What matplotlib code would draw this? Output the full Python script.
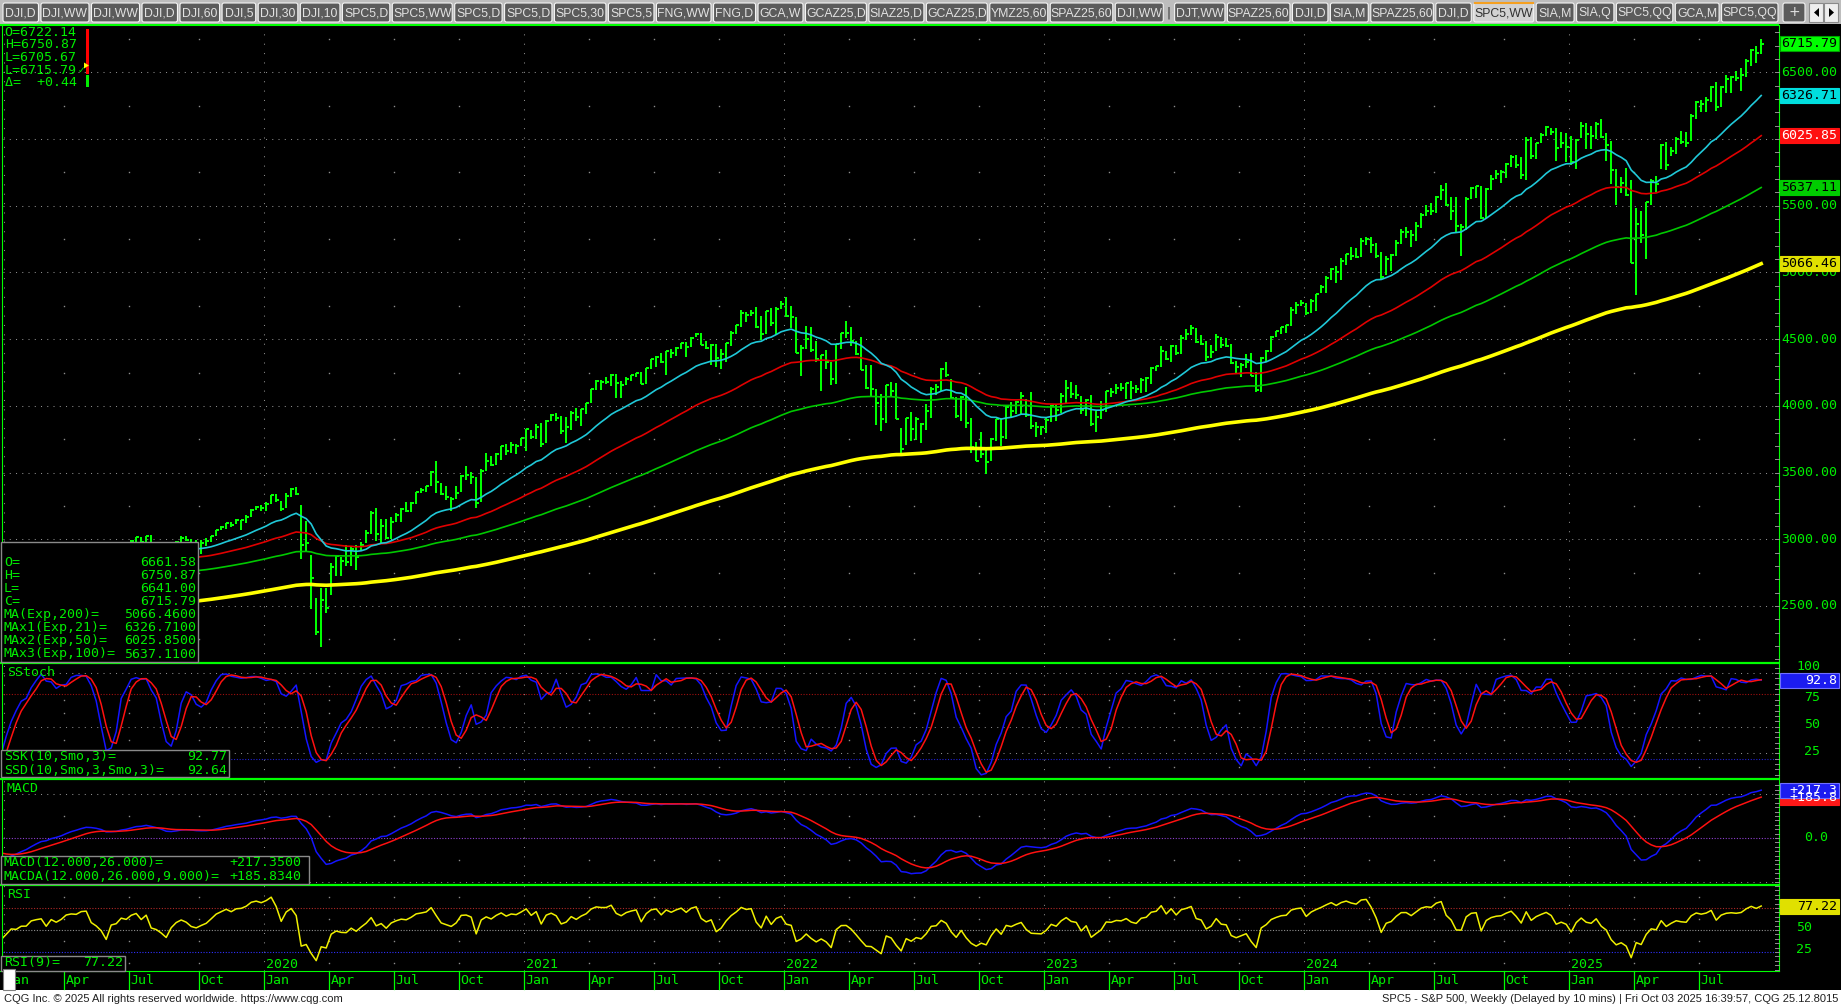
import numpy as np
import pandas as pd
import matplotlib
matplotlib.use("Agg")
import matplotlib.pyplot as plt
from matplotlib.patches import Rectangle, FancyBboxPatch, Polygon

# ---------------------------------------------------------------------------
# weekly S&P 500 bars, dated by the Friday of each week.  The first 13 bars
# (Q4 2018) sit left of the visible window and only warm up the studies.
first_friday = "2018-10-05"
n_hidden = 13

close = [
    2885.57, 2767.13, 2767.78, 2658.69, 2723.06, 2781.01, 2736.27, 2632.56, 2760.17, 2633.08, 2599.95, 2416.62, 2485.74,
    # 2019
    2531.94, 2596.26, 2670.71, 2664.76, 2706.53, 2707.88, 2775.60, 2792.67, 2803.69, 2743.07, 2822.48, 2800.71, 2834.40,
    2892.74, 2907.41, 2905.03, 2939.88, 2945.64, 2881.40, 2859.53, 2826.06, 2752.06, 2873.34, 2886.98, 2950.46, 2941.76,
    2990.41, 3013.77, 2976.61, 3025.86, 2932.05, 2918.65, 2888.68, 2847.11, 2926.46, 2978.71, 3007.39, 2992.07, 2961.79,
    2952.01, 2970.27, 2986.20, 3022.55, 3066.91, 3093.08, 3120.46, 3110.29, 3140.98, 3145.91, 3168.80, 3221.22, 3240.02,
    # 2020
    3234.85, 3265.35, 3329.62, 3295.47, 3225.52, 3327.71, 3380.16, 3337.75, 2954.22, 2972.37, 2711.02, 2304.92, 2541.47,
    2488.65, 2789.82, 2874.56, 2836.74, 2830.71, 2929.80, 2863.70, 2955.45, 3044.31, 3193.93, 3041.31, 3097.74, 3009.05,
    3130.01, 3185.04, 3224.73, 3215.63, 3271.12, 3351.28, 3372.85, 3397.16, 3508.01, 3426.96, 3340.97, 3319.47, 3298.46,
    3348.44, 3477.13, 3483.81, 3465.39, 3269.96, 3509.44, 3585.15, 3557.54, 3638.35, 3699.12, 3663.46, 3709.41, 3703.06,
    3756.07,
    # 2021
    3824.68, 3768.25, 3841.47, 3714.24, 3886.83, 3934.83, 3906.71, 3811.15, 3841.94, 3943.34, 3913.10, 3974.54, 4019.87,
    4128.80, 4185.47, 4180.17, 4181.17, 4232.60, 4173.85, 4155.86, 4204.11, 4229.89, 4247.44, 4166.45, 4280.70, 4352.34,
    4369.55, 4327.16, 4411.79, 4395.26, 4436.52, 4468.00, 4441.67, 4509.37, 4535.43, 4458.58, 4432.99, 4455.48, 4357.04,
    4391.34, 4471.37, 4544.90, 4605.38, 4697.53, 4682.85, 4697.96, 4594.62, 4538.43, 4712.02, 4620.64, 4725.79, 4766.18,
    # 2022
    4677.03, 4662.85, 4397.94, 4431.85, 4500.53, 4418.64, 4348.87, 4384.65, 4328.87, 4204.31, 4463.12, 4543.06, 4545.86,
    4488.28, 4392.59, 4271.78, 4131.93, 4123.34, 4023.89, 3901.36, 4158.24, 4108.54, 3900.86, 3674.84, 3911.74, 3825.33,
    3899.38, 3863.16, 3961.63, 4130.29, 4145.19, 4280.15, 4228.48, 4057.66, 3924.26, 4067.36, 3873.33, 3693.23, 3585.62,
    3639.66, 3583.07, 3752.75, 3901.06, 3770.55, 3992.93, 3965.34, 4026.12, 4071.70, 3934.38, 3852.36, 3844.82, 3839.50,
    # 2023
    3895.08, 3999.09, 3972.61, 4070.56, 4136.48, 4090.46, 4079.09, 3970.04, 4045.64, 3861.59, 3916.64, 3970.99, 4109.31,
    4105.02, 4137.64, 4133.52, 4169.48, 4136.25, 4124.08, 4191.98, 4205.45, 4282.37, 4298.86, 4409.59, 4348.33, 4450.38,
    4398.95, 4505.42, 4536.34, 4582.23, 4478.03, 4464.05, 4369.71, 4405.71, 4515.77, 4457.49, 4450.32, 4320.06, 4288.05,
    4308.50, 4327.78, 4224.16, 4117.37, 4358.34, 4415.24, 4514.02, 4559.34, 4594.63, 4604.37, 4719.19, 4754.63, 4769.83,
    # 2024
    4697.24, 4783.83, 4839.81, 4890.97, 4958.61, 5026.61, 5005.57, 5088.80, 5137.08, 5123.69, 5117.09, 5234.18, 5254.35,
    5204.34, 5123.41, 4967.23, 5099.96, 5127.79, 5222.68, 5303.27, 5304.72, 5277.51, 5346.99, 5431.60, 5464.62, 5460.48,
    5567.19, 5615.35, 5505.00, 5459.10, 5346.56, 5344.16, 5554.25, 5634.61, 5648.40, 5408.42, 5626.02, 5702.55, 5738.17,
    5751.07, 5815.03, 5864.67, 5808.12, 5728.80, 5995.54, 5870.62, 5969.34, 6032.38, 6090.27, 6051.09, 5930.85, 5970.84,
    # 2025
    5942.47, 5827.04, 5996.66, 6101.24, 6040.53, 6025.99, 6114.63, 6013.13, 5954.50, 5770.20, 5638.94, 5667.56, 5580.94,
    5074.08, 5363.36, 5282.70, 5525.21, 5686.67, 5659.91, 5958.38, 5802.82, 5911.69, 6000.36, 5976.97, 5967.84, 6173.07,
    6279.35, 6259.75, 6296.79, 6388.64, 6238.01, 6389.45, 6449.80, 6466.91, 6460.26, 6481.50, 6584.29, 6664.36, 6643.70,
    6715.79,
]

high = [
    2940, 2890, 2816, 2780, 2767, 2815, 2795, 2735, 2760, 2800, 2685, 2601, 2520,
    # 2019
    2538, 2597, 2675, 2681, 2708, 2738, 2776, 2793, 2816, 2803, 2830, 2861, 2838, 2893, 2910, 2916, 2940, 2954, 2932, 2892,
    2876, 2840, 2876, 2911, 2964, 2958, 2996, 3017, 3018, 3028, 3029, 2944, 2943, 2939, 2941, 2986, 3021, 3022, 3002, 2993,
    2993, 3008, 3027, 3067, 3098, 3121, 3128, 3155, 3146, 3183, 3226, 3248,
    # 2020
    3258, 3282, 3330, 3338, 3290, 3347, 3385, 3394, 3259, 3137, 2883, 2563, 2637, 2632, 2819, 2880, 2868, 2955, 2939, 2954,
    2981, 3068, 3211, 3233, 3155, 3155, 3165, 3198, 3238, 3280, 3279, 3352, 3387, 3399, 3509, 3588, 3425, 3402, 3320, 3398,
    3482, 3550, 3502, 3466, 3529, 3646, 3628, 3645, 3699, 3712, 3726, 3712, 3760,
    # 2021
    3827, 3823, 3861, 3870, 3895, 3937, 3950, 3928, 3915, 3960, 3983, 3979, 4021, 4130, 4192, 4194, 4218, 4238, 4236, 4188,
    4213, 4234, 4249, 4257, 4287, 4355, 4372, 4394, 4415, 4430, 4441, 4468, 4480, 4513, 4546, 4549, 4486, 4466, 4466, 4429,
    4475, 4560, 4608, 4718, 4707, 4717, 4744, 4672, 4713, 4732, 4740, 4787,
    # 2022
    4819, 4749, 4665, 4453, 4596, 4590, 4490, 4385, 4416, 4327, 4465, 4546, 4637, 4593, 4487, 4513, 4308, 4307, 4124, 4091,
    4159, 4177, 4169, 3838, 3913, 3951, 3919, 3875, 4013, 4141, 4167, 4281, 4326, 4204, 4063, 4077, 4140, 3907, 3733, 3806,
    3685, 3762, 3905, 3911, 4001, 4029, 4034, 4101, 4052, 4101, 3877, 3846,
    # 2023
    3906, 4004, 4016, 4095, 4195, 4176, 4157, 4073, 4049, 4079, 3964, 4039, 4110, 4133, 4164, 4170, 4170, 4186, 4154, 4212,
    4213, 4290, 4299, 4449, 4408, 4458, 4456, 4528, 4578, 4607, 4584, 4528, 4490, 4458, 4541, 4519, 4511, 4466, 4338, 4319,
    4386, 4394, 4256, 4367, 4418, 4521, 4560, 4595, 4610, 4738, 4779, 4793,
    # 2024
    4773, 4799, 4842, 4907, 4975, 5030, 5048, 5111, 5141, 5190, 5180, 5262, 5265, 5264, 5220, 5150, 5123, 5139, 5240, 5325,
    5342, 5315, 5376, 5448, 5506, 5524, 5570, 5655, 5670, 5566, 5566, 5360, 5563, 5644, 5652, 5651, 5636, 5734, 5767, 5765,
    5822, 5878, 5878, 5863, 6013, 6018, 5972, 6044, 6099, 6085, 6085, 6050,
    # 2025
    6049, 6022, 6004, 6128, 6120, 6101, 6128, 6147, 6044, 5987, 5775, 5715, 5787, 5695, 5481, 5460, 5528, 5700, 5720, 5964,
    5976, 5944, 6016, 6059, 6051, 6188, 6285, 6290, 6315, 6395, 6427, 6395, 6481, 6475, 6509, 6533, 6600, 6672, 6699, 6751,
]

low = [
    2874, 2710, 2724, 2628, 2603, 2701, 2671, 2631, 2649, 2621, 2584, 2409, 2347,
    # 2019
    2444, 2524, 2571, 2612, 2631, 2682, 2703, 2764, 2775, 2722, 2735, 2800, 2785, 2849, 2873, 2898, 2896, 2901, 2825, 2801,
    2805, 2750, 2728, 2873, 2884, 2914, 2952, 2966, 2971, 2975, 2914, 2822, 2834, 2835, 2853, 2891, 2979, 2990, 2946, 2856,
    2892, 2952, 2976, 3023, 3066, 3078, 3091, 3113, 3070, 3124, 3166, 3223,
    # 2020
    3215, 3214, 3262, 3281, 3214, 3234, 3316, 3329, 2855, 2902, 2478, 2281, 2192, 2447, 2579, 2727, 2727, 2798, 2798, 2767,
    2921, 2970, 3039, 2985, 2965, 3004, 2999, 3128, 3128, 3201, 3204, 3264, 3344, 3355, 3396, 3349, 3330, 3292, 3209, 3299,
    3354, 3441, 3415, 3233, 3280, 3511, 3546, 3554, 3594, 3633, 3648, 3636, 3700,
    # 2021
    3663, 3750, 3749, 3694, 3725, 3884, 3885, 3789, 3723, 3817, 3886, 3853, 3943, 4020, 4118, 4118, 4164, 4148, 4057, 4062,
    4154, 4188, 4218, 4165, 4165, 4276, 4294, 4323, 4233, 4360, 4373, 4426, 4368, 4442, 4514, 4457, 4429, 4306, 4288, 4278,
    4330, 4447, 4537, 4595, 4630, 4672, 4585, 4495, 4540, 4600, 4531, 4730,
    # 2022
    4663, 4582, 4395, 4223, 4429, 4401, 4328, 4115, 4279, 4157, 4162, 4424, 4507, 4450, 4381, 4267, 4124, 4063, 3859, 3811,
    3875, 4074, 3900, 3637, 3705, 3738, 3743, 3722, 3819, 3911, 4080, 4115, 4218, 4057, 3907, 3886, 3837, 3647, 3585, 3611,
    3492, 3590, 3736, 3699, 3750, 3906, 3938, 3939, 3918, 3828, 3765, 3783,
    # 2023
    3795, 3876, 3886, 3949, 4015, 4061, 4048, 3943, 3928, 3847, 3808, 3902, 3956, 4069, 4087, 4114, 4049, 4048, 4099, 4098,
    4104, 4166, 4260, 4293, 4341, 4328, 4385, 4389, 4494, 4528, 4474, 4457, 4335, 4357, 4414, 4431, 4443, 4317, 4238, 4216,
    4283, 4223, 4104, 4103, 4329, 4406, 4515, 4537, 4547, 4597, 4688, 4752,
    # 2024
    4682, 4700, 4714, 4845, 4846, 4943, 4920, 4946, 5056, 5091, 5105, 5118, 5204, 5146, 5108, 4954, 4980, 5011, 5123, 5211,
    5257, 5191, 5234, 5331, 5420, 5433, 5445, 5547, 5497, 5390, 5303, 5120, 5317, 5548, 5561, 5403, 5406, 5615, 5703, 5674,
    5707, 5789, 5782, 5703, 5696, 5853, 5853, 5973, 6024, 6030, 5833, 5932,
    # 2025
    5830, 5809, 5774, 6006, 5923, 5923, 6003, 6009, 5837, 5667, 5505, 5597, 5572, 5069, 4835, 5221, 5101, 5508, 5606, 5776,
    5768, 5874, 5891, 5964, 5943, 5984, 6150, 6201, 6201, 6281, 6212, 6241, 6346, 6343, 6434, 6360, 6467, 6551, 6569, 6641,
]

# moving-average lengths and the levels they carried into Oct 2018
ema_len = {"ema21": 21, "ema50": 50, "ema100": 100, "ema200": 200}
ema_start = {"ema21": 2860.0, "ema50": 2770.0, "ema100": 2605.0, "ema200": 2330.0}
macd_start = (2890.0, 2900.0, 40.0)  # EMA12, EMA26, signal
rsi_start = (24.0, 18.0)             # Wilder average gain / loss

# legend texts as printed by CQG
info_rows = ["O=6722.14", "H=6750.87", "L=6705.67", "L=6715.79", "\u0394=  +0.44"]
legend_rows = [("O=", "6661.58"), ("H=", "6750.87"), ("L=", "6641.00"), ("C=", "6715.79"),
               ("MA(Exp,200)=", "5066.4600"), ("MAx1(Exp,21)=", "6326.7100"),
               ("MAx2(Exp,50)=", "6025.8500"), ("MAx3(Exp,100)=", "5637.1100")]
stoch_rows = [("SSK(10,Smo,3)=", "92.77"), ("SSD(10,Smo,3,Smo,3)=", "92.64")]
macd_rows = [("MACD(12.000,26.000)=", "+217.3500"), ("MACDA(12.000,26.000,9.000)=", "+185.8340")]
rsi_rows = [("RSI(9)=", "77.22")]
ema_last = {"ema21": 6326.71, "ema50": 6025.85, "ema100": 5637.11, "ema200": 5066.46}

tab_labels = ["DJI,D", "DJI,WW", "DJI,WW", "DJI,D", "DJI,60", "DJI,5", "DJI,30", "DJI,10",
              "SPC5,D", "SPC5,WW", "SPC5,D", "SPC5,D", "SPC5,30", "SPC5,5", "FNG,WW", "FNG,D",
              "GCA,W", "GCAZ25,D", "SIAZ25,D", "GCAZ25,D", "YMZ25,60", "SPAZ25,60", "DJI,WW", "|",
              "DJT,WW", "SPAZ25,60", "DJI,D", "SIA,M", "SPAZ25,60", "DJI,D", "SPC5,WW", "SIA,M",
              "SIA,Q", "SPC5,QQ", "GCA,M", "SPC5,QQ"]
active_tab = 30

# ---------------------------------------------------------------------------
c = np.array(close, float)
h = np.array(high, float)
l = np.array(low, float)
n = len(c)
x = np.arange(n) - n_hidden
fridays = pd.date_range(first_friday, periods=n, freq="7D")
week_start = fridays - pd.Timedelta(days=4)   # CQG labels a week by its Monday


def ema(vals, span, start):
    a = 2.0 / (span + 1)
    out = np.empty(len(vals))
    e = start
    for k, v in enumerate(vals):
        e += a * (v - e)
        out[k] = e
    return out


emas = {k: ema(c, ema_len[k], ema_start[k]) for k in ema_len}
macd = ema(c, 12, macd_start[0]) - ema(c, 26, macd_start[1])
macd_sig = ema(macd, 9, macd_start[2])

hh = pd.Series(h).rolling(10, min_periods=1).max().values
ll = pd.Series(l).rolling(10, min_periods=1).min().values
fastk = 100 * (c - ll) / (hh - ll)
ssk = pd.Series(fastk).rolling(3, min_periods=1).mean().values
ssd = pd.Series(ssk).rolling(3, min_periods=1).mean().values

ag, al = rsi_start
rsi = []
for d in np.diff(c, prepend=c[0]):
    ag = (ag * 8 + max(d, 0)) / 9
    al = (al * 8 + max(-d, 0)) / 9
    rsi.append(100 - 100 / (1 + ag / al))
rsi = np.array(rsi)

# ---------------------------------------------------------------------------
W, H = 1841, 1008
GREEN = "#00ff00"
TXT = "#00ee00"
GRID = "#8c8c8c"
MONO = ["DejaVu Sans Mono", "DejaVu Sans"]
SANS = ["Liberation Sans", "DejaVu Sans"]
FS = 9.5

fig = plt.figure(figsize=(W / 100, H / 100), dpi=100, facecolor="black")
ov = fig.add_axes([0, 0, 1, 1], zorder=10)
ov.set_xlim(0, W)
ov.set_ylim(H, 0)
ov.axis("off")

PL, PR = 3, 1779
X0, DX = 1.2, 5.0   # pixel of the first visible bar and bar spacing


def panel(y0, y1, ylim):
    ax = fig.add_axes([PL / W, 1 - y1 / H, (PR - PL) / W, (y1 - y0) / H], zorder=1)
    ax.set_facecolor("black")
    ax.set_xlim((PL - X0) / DX, (PR - X0) / DX)
    ax.set_ylim(*ylim)
    ax.set_xticks([])
    ax.set_yticks([])
    for s in ax.spines.values():
        s.set_visible(False)
    return ax


ax_p = panel(25, 663, (2072.7, 6855.3))
ax_s = panel(663, 779, (0.84, 109.5))
ax_m = panel(779, 885, (-213.6, 268.2))
ax_r = panel(885, 971, (3.4, 101.1))

vis = x >= 0
first_of_month = np.r_[True, week_start.month[1:] != week_start.month[:-1]]
qmask = first_of_month & vis & np.isin(week_start.month, [1, 4, 7, 10])
tick_x = x[qmask] - 0.5          # month lines sit on the left edge of the bar
tick_dates = week_start[qmask]
year_x = tick_x[tick_dates.month == 1]
quarter_x = tick_x[tick_dates.month != 1]


def grid(ax, major, minor):
    for v in major:
        ax.axhline(v, color=GRID, lw=0.75, ls=(0, (1, 5)), zorder=0)
    for xv in year_x:
        ax.axvline(xv, color=GRID, lw=0.75, ls=(0, (1, 8)), zorder=0)
    if len(minor):
        X, Y = np.meshgrid(quarter_x, minor)
        ax.plot(X.ravel(), Y.ravel(), ls="none", marker="s", ms=1.0, mew=0, color=GRID, zorder=0)


grid(ax_p, np.arange(2500, 7000, 500), np.arange(2250, 7000, 500))
grid(ax_s, [25, 50, 100], [12.5, 37.5, 62.5, 75, 87.5])
grid(ax_m, [-200, 200], [-100, 100])
grid(ax_r, [], [12.5, 37.5, 62.5, 87.5])

# price bars (high-low with close tick) and moving averages
ax_p.vlines(x, l, h, color=GREEN, lw=1.3, antialiased=False, zorder=2)
ax_p.hlines(c, x, x + 0.6, color=GREEN, lw=1.1, antialiased=False, zorder=2)
ax_p.plot(x, emas["ema200"], color="#ffff00", lw=2.6, zorder=3)
ax_p.plot(x, emas["ema100"], color="#00c800", lw=1.2, zorder=3)
ax_p.plot(x, emas["ema50"], color="#e00000", lw=1.2, zorder=3)
ax_p.plot(x, emas["ema21"], color="#20c8d8", lw=1.2, zorder=3)

# slow stochastic
ax_s.axhline(80, color="#a01010", lw=0.8, ls=(0, (1, 1.5)))
ax_s.axhline(20, color="#2020d0", lw=0.8, ls=(0, (1, 1.5)))
ax_s.plot(x, ssk, color="#1414ff", lw=1.1, zorder=3)
ax_s.plot(x, ssd, color="#ff1010", lw=1.1, zorder=3)

# MACD
ax_m.axhline(0, color="#9040d0", lw=0.8, ls=(0, (1, 1.5)))
ax_m.plot(x, macd, color="#1414ff", lw=1.1, zorder=3)
ax_m.plot(x, macd_sig, color="#ff1010", lw=1.1, zorder=3)

# RSI
ax_r.axhline(75, color="#b02828", lw=0.8, ls=(0, (1, 1.5)))
ax_r.axhline(50, color="#909090", lw=0.8, ls=(0, (1, 1.5)))
ax_r.axhline(25, color="#3030ff", lw=0.8, ls=(0, (1, 1.5)))
ax_r.plot(x, rsi, color="#f0f000", lw=1.1, zorder=3)

# ---------------------------------------------------------------------------
# frame lines
for yy, lw in [(24.5, 1.5), (663, 1.6), (779, 1.6), (885, 1.6)]:
    ov.plot([0, PR], [yy, yy], color=GREEN, lw=lw, solid_capstyle="butt", zorder=3)
ov.plot([0, PR], [971, 971], color=GREEN, lw=0.8)
ov.plot([2.5, 2.5], [25, 971], color=GREEN, lw=0.8)
ov.plot([PR, PR], [25, 971], color=GREEN, lw=0.8)


def ypx(ax, v):
    return ov.transData.inverted().transform(ax.transData.transform((0, v)))[1]


def xpx(ax, v):
    return ov.transData.inverted().transform(ax.transData.transform((v, 0)))[0]


def axis_ticks(ax, ticks):
    for v in ticks:
        yy = ypx(ax, v)
        ov.plot([PR - 4, PR], [yy, yy], color="#909090", lw=0.7)


def axis_label(ax, v, text, right, dy=0):
    ov.text(right, ypx(ax, v) + dy, text, color=TXT, fontsize=FS, family=MONO,
            ha="right", va="center", zorder=1)


axis_ticks(ax_p, np.arange(2100, 6900, 100))
axis_ticks(ax_s, np.arange(5, 110, 5))
axis_ticks(ax_m, np.arange(-200, 260, 20))
axis_ticks(ax_r, np.arange(5, 101, 5))
for v in np.arange(2500, 7000, 500):
    axis_label(ax_p, v, "%.2f" % v, 1837)
axis_label(ax_s, 100, "100", 1820, dy=-7)
for v in [75, 50, 25]:
    axis_label(ax_s, v, "%d" % v, 1820, dy=-2)
axis_label(ax_m, 0, "0.0", 1828, dy=-1)
for v in [50, 25]:
    axis_label(ax_r, v, "%d" % v, 1812, dy=-2)


def tag(ax, v, text, fc, tc, ec=None, clip=None):
    yy = ypx(ax, v)
    ov.add_patch(Rectangle((1780, yy - 7.5), 59, 15, fc=fc, ec=ec or fc, lw=0.8, zorder=5))
    t = ov.text(1837, yy, text, color=tc, fontsize=FS, family=MONO, ha="right", va="center", zorder=6)
    if clip is not None:
        t.set_clip_path(Rectangle((1780, clip), 59, 20, transform=ov.transData))
    return yy


tag(ax_p, c[-1], "%.2f" % c[-1], "#00ff00", "black", "#00a000")
tag(ax_p, ema_last["ema21"], "6326.71", "#00dede", "black")
tag(ax_p, ema_last["ema50"], "6025.85", "#ff1010", "white")
tag(ax_p, ema_last["ema100"], "5637.11", "#00cc00", "black")
tag(ax_p, ema_last["ema200"], "5066.46", "#e0e000", "black")
tag(ax_s, 92.77, "92.8", "#1c1cf0", "white", "#7070ff")
blue_y = ypx(ax_m, 217.35)
tag(ax_m, 185.83, "+185.8", "#ff1818", "white", clip=blue_y + 7.5)
tag(ax_m, 217.35, "+217.3", "#1c1cf0", "white", "#7070ff")
tag(ax_r, 77.22, "77.22", "#e0e000", "black")

# panel titles and legend boxes
for t, yy in [("SStoch", 673), ("MACD", 789), ("RSI", 895)]:
    ov.text(7, yy, t, color=TXT, fontsize=FS, family=MONO, va="center")


def legend_box(x0, y0, x1, y1, rows, row_y, right):
    ov.add_patch(Rectangle((x0, y0), x1 - x0, y1 - y0, fc="black", ec="#8a8a8a", lw=1.0, zorder=4))
    for (lab, val), yy in zip(rows, row_y):
        ov.text(4, yy, lab, color=TXT, fontsize=FS, family=MONO, va="center", zorder=5)
        ov.text(right, yy, val, color=TXT, fontsize=FS, family=MONO, va="center", ha="right", zorder=5)


legend_box(1.5, 542.3, 197.7, 661.7, legend_rows, 562.3 + 13.1 * np.arange(8), 196)
legend_box(1, 750, 229, 777, stoch_rows, [756.7, 770], 227)
legend_box(1, 856, 309, 884, macd_rows, [862.7, 876], 301)
legend_box(1, 956, 125, 970.5, rsi_rows, [962.7], 123.5)

# top-left quote box
for k, t in enumerate(info_rows):
    ov.text(4.7, 32.3 + 12.6 * k, t, color=TXT, fontsize=FS, family=MONO, va="center")
ov.text(78, 70.5, "\u2713", color=TXT, fontsize=6.5, family=["DejaVu Sans"], va="center")
ov.add_patch(Rectangle((86, 29.3), 3.2, 44.7, fc="#ff0000", ec="none"))
ov.add_patch(Rectangle((86, 74.5), 3.2, 12.8, fc="#00ee00", ec="none"))
ov.add_patch(Polygon([[84, 62.5], [89, 65.5], [84, 68.5]], closed=True, fc="#ffff00", ec="none"))

# time axis
mon_name = {1: "Jan", 4: "Apr", 7: "Jul", 10: "Oct"}
for xv, d in zip(tick_x, tick_dates):
    xp = xpx(ax_r, xv)
    ov.plot([xp, xp], [971, 989], color=GREEN, lw=0.9)
    ov.text(xp + 2, 980.5, mon_name[d.month], color=TXT, fontsize=FS, family=MONO, va="center")
    if d.month == 1 and d.year > 2019:
        ov.text(xp + 2, 964.5, str(d.year), color=TXT, fontsize=FS, family=MONO, va="center")
ov.add_patch(Rectangle((2.7, 969.3), 12.3, 20.7, fc="white", ec="#808080", lw=0.8, zorder=6))

# footer
ov.add_patch(Rectangle((0, 990), W, H - 990, fc="white", ec="none"))
ov.text(4, 999.5, "CQG Inc. \u00a9 2025 All rights reserved worldwide. https://www.cqg.com",
        color="#202020", fontsize=8, family=SANS, va="center")
ov.text(1838, 999.5, "SPC5 - S&P 500, Weekly (Delayed by 10 mins) | Fri Oct 03 2025 16:39:57, CQG 25.12.8015",
        color="#202020", fontsize=8, family=SANS, va="center", ha="right")

# tab strip
ov.add_patch(Rectangle((0, 0), W, 24, fc="#bdbdbd", ec="none"))
rend = fig.canvas.get_renderer()
widths = []
for lab in tab_labels:
    t = ov.text(0, 0, lab, fontsize=8.8, family=SANS)
    widths.append(t.get_window_extent(rend).width + (4 if lab == "|" else 10))
    t.remove()
gap = 2.5
scale = (1778 - 3 - gap * (len(widths) - 1)) / sum(widths)
xt = 3
for k, (lab, w) in enumerate(zip(tab_labels, widths)):
    w *= scale
    if lab == "|":
        ov.text(xt + w / 2, 13, lab, color="#303030", fontsize=8.8, ha="center", va="center")
    else:
        active = k == active_tab
        ov.add_patch(FancyBboxPatch((xt, 3), w, 19, boxstyle="round,pad=0,rounding_size=2",
                                    fc="#d2d2d2" if active else "#5b5b5b", ec="#f4f4f4", lw=0.8))
        if active:
            ov.plot([xt + 1, xt + w - 1], [3.2, 3.2], color="#f5a020", lw=1.5)
        ov.text(xt + w / 2, 13, lab, color="#303030" if active else "#e2e2e2", fontsize=8.8,
                family=SANS, ha="center", va="center")
    xt += w + gap
ov.add_patch(FancyBboxPatch((1783, 3), 22, 19, boxstyle="round,pad=0,rounding_size=2",
                            fc="#5b5b5b", ec="#f4f4f4", lw=0.8))
ov.text(1794, 12.5, "+", color="#e2e2e2", fontsize=10, ha="center", va="center")
for bx, tri in [(1809, [[1819, 8], [1814, 12.5], [1819, 17]]), (1824, [[1829, 8], [1834, 12.5], [1829, 17]])]:
    ov.add_patch(Rectangle((bx, 3), 14, 19, fc="#eeeeee", ec="#8a8a8a", lw=0.8))
    ov.add_patch(Polygon(tri, closed=True, fc="black", ec="none"))

fig.savefig("out.png", dpi=100, facecolor="black")
